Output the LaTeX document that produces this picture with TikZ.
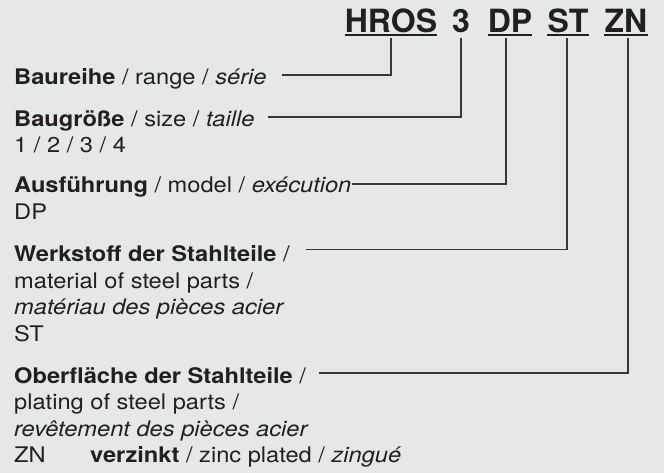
\documentclass[tikz,border=0pt]{standalone}
\usepackage{fontspec}
\setmainfont{TeX Gyre Heros}[FakeStretch=1.1]
\newfontfamily\titlefont{TeX Gyre Heros}
\usetikzlibrary{positioning}
\definecolor{paper}{RGB}{230,231,233}
\definecolor{ink}{RGB}{35,31,32}
\definecolor{leadgray}{RGB}{55,55,58}

\begin{document}
\begin{tikzpicture}[x=1pt,y=-1pt,
  code/.style={inner sep=0pt,anchor=base,text=ink,
              font=\titlefont\bfseries\fontsize{32}{36}\selectfont},
  key/.style={inner sep=0pt,anchor=base west,align=left,text=ink,
              font=\fontsize{21.5}{26.5}\selectfont},
  uline/.style={draw=ink,line width=2pt},
  lead/.style={draw=leadgray,line width=1.1pt}]
  \fill[paper] (0,0) rectangle (664,473);
  % type code
  \node[code] (hros)  at (391,32.5) {HROS};
  \node[code] (three) at (461,32.5) {3};
  \node[code] (dp)    at (510,32.5) {DP};
  \node[code] (st)    at (568,32.5) {ST};
  \node[code] (zn)    at (626,32.5) {ZN};
  \foreach \c in {hros,dp,st,zn}
    \draw[uline] ([yshift=-3pt]\c.base west) -- ([yshift=-3pt]\c.base east);
  % legend (multi-line nodes sit on their last line)
  \node[key] (range) at (14,85) {\textbf{Baureihe} / range / \textit{série}};
  \node[key] (size) at (14,126.5) {\textbf{Baugröße} / size / \textit{taille}};
  \node[key, below=26.5pt of size.base west, anchor=base west] (sizeval) {1 / 2 / 3 / 4};
  \node[key, below=40pt of sizeval.base west, anchor=base west] (model)
    {\textbf{Ausführung} / model / \textit{exécution}};
  \node[key, below=26.5pt of model.base west, anchor=base west] (modelval) {DP};
  \node[key, below=42pt of modelval.base west, anchor=base west] (material)
    {\textbf{Werkstoff der Stahlteile} /};
  \node[key, below=79.5pt of material.base west, anchor=base west] (materialval)
    {material of steel parts /\\\textit{matériau des pièces acier}\\ST};
  \node[key, below=42pt of materialval.base west, anchor=base west] (plating)
    {\textbf{Oberfläche der Stahlteile} /};
  \node[key, below=79.5pt of plating.base west, anchor=base west] (platingval)
    {plating of steel parts /\\\textit{revêtement des pièces acier}\\
     \makebox[76pt][l]{ZN}\textbf{verzinkt} / zinc plated / \textit{zingué}};
  % leaders
  \draw[lead] ([yshift=-5.5pt]hros.base) |- ([xshift=15pt,yshift=10pt]range.base east);
  \draw[lead] ([yshift=-5.5pt]three.base) |- ([xshift=13pt,yshift=9.5pt]size.base east);
  \draw[lead] ([xshift=-4pt,yshift=-5.5pt]dp.base) |- ([yshift=9pt]model.base east);
  \draw[lead] ([xshift=-1pt,yshift=-5.5pt]st.base) |- ([xshift=16pt,yshift=12pt]material.base east);
  \draw[lead] ([xshift=2pt,yshift=-5.5pt]zn.base) |- ([xshift=13pt,yshift=10pt]plating.base east);
\end{tikzpicture}
\end{document}
